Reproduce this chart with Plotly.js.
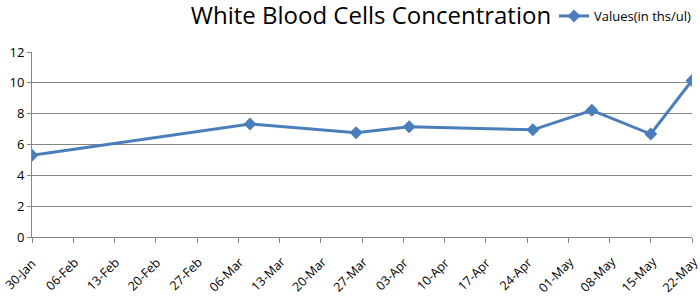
<!DOCTYPE html>
<html>
<head>
<meta charset="utf-8">
<script src="https://cdn.plot.ly/plotly-3.0.1.min.js"></script>
<style>html,body{margin:0;padding:0;background:#fff;}#chart{width:700px;height:298px;}</style>
</head>
<body>
<div id="chart"></div>
<script>
const dates = ['2015-01-30','2015-03-08','2015-03-26','2015-04-04','2015-04-25','2015-05-05','2015-05-15','2015-05-22'];
const values = [5.3, 7.33, 6.77, 7.15, 6.95, 8.22, 6.68, 10.15];
const seriesName = 'Values(in ths/ul)';
const chartTitle = 'White Blood Cells Concentration';
const tickDates = ['2015-01-30','2015-02-06','2015-02-13','2015-02-20','2015-02-27','2015-03-06','2015-03-13',
  '2015-03-20','2015-03-27','2015-04-03','2015-04-10','2015-04-17','2015-04-24','2015-05-01','2015-05-08','2015-05-15','2015-05-22'];
const tickLabels = ['30-Jan','06-Feb','13-Feb','20-Feb','27-Feb','06-Mar','13-Mar','20-Mar','27-Mar',
  '03-Apr','10-Apr','17-Apr','24-Apr','01-May','08-May','15-May','22-May'];

const trace = {
  x: dates, y: values, type: 'scatter', mode: 'lines+markers', name: seriesName,
  line: {color: '#4A7EBB', width: 3},
  marker: {symbol: 'diamond', size: 10, color: '#4A7EBB'}
};
const plotH = 298 - 52 - 61;
const annotations = tickDates.map((d, i) => ({
  x: d, xref: 'x', y: -37/plotH, yref: 'paper',
  text: tickLabels[i], showarrow: false, textangle: -45,
  xanchor: 'center', yanchor: 'middle', xshift: -12, borderpad: 0,
  font: {size: 12.5, family: 'Open Sans, sans-serif', color: '#000'}
}));
const layout = {
  width: 700, height: 298,
  margin: {l: 32, r: 8, t: 52, b: 61, autoexpand: false},
  paper_bgcolor: '#fff', plot_bgcolor: '#fff',
  font: {family: 'Open Sans, sans-serif', color: '#000'},
  title: {text: chartTitle, font: {size: 24, family: 'Open Sans, sans-serif', color: '#000'},
          x: 359.5/700, xanchor: 'center', xref: 'paper', y: 1 - 16/298, yanchor: 'middle', yref: 'container', automargin: false},
  showlegend: true,
  legend: {x: (554-32)/660, xanchor: 'left', y: 1 + (52-16)/plotH, yanchor: 'middle',
           font: {size: 13}, bgcolor: 'rgba(0,0,0,0)', itemwidth: 30},
  annotations: annotations,
  xaxis: {
    type: 'date', range: [tickDates[0], tickDates[tickDates.length-1]],
    tickmode: 'array', tickvals: tickDates, showticklabels: false,
    ticks: 'outside', ticklen: 5, tickcolor: '#868686',
    showgrid: false, showline: true, linecolor: '#868686', zeroline: false, automargin: false
  },
  yaxis: {
    range: [0, 12], dtick: 2, tickfont: {size: 13},
    ticks: 'outside', ticklen: 4, tickcolor: '#868686',
    showgrid: true, gridcolor: '#868686', gridwidth: 1,
    showline: true, linecolor: '#868686', zeroline: false, automargin: false
  }
};
Plotly.newPlot('chart', [trace], layout, {displayModeBar: false});
</script>
</body>
</html>
